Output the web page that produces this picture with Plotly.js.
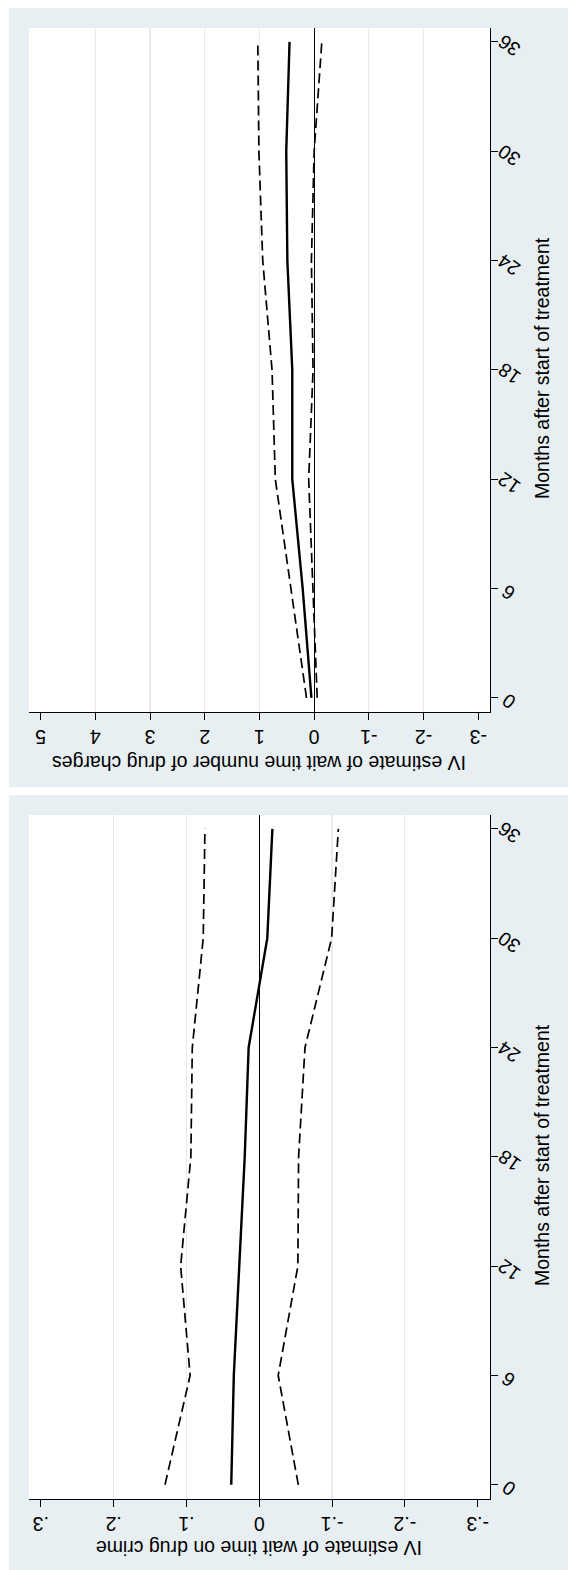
<!DOCTYPE html>
<html>
<head>
<meta charset="utf-8">
<script src="https://cdn.plot.ly/plotly-3.0.1.min.js"></script>
<style>
html,body{margin:0;padding:0;background:#fff;}
#chart{width:568px;height:1570px;}
</style>
</head>
<body>
<div id="chart"></div>
<script>
// Data (months after start of treatment)
const months = [0, 6, 12, 18, 24, 30, 36];
// Top panel: IV estimate of wait time on number of drug charges
const chargesEst   = [0.05, 0.21, 0.40, 0.40, 0.49, 0.51, 0.45];
const chargesUpper = [0.14, 0.42, 0.71, 0.77, 0.94, 1.01, 1.03];
const chargesLower = [-0.055, 0.02, 0.10, 0.02, 0.05, 0.00, -0.14];
// Bottom panel: IV estimate of wait time on drug crime
const crimeEst   = [0.0385, 0.035, 0.0275, 0.020, 0.0146, -0.011, -0.018];
const crimeUpper = [0.1295, 0.095, 0.108, 0.094, 0.092, 0.077, 0.0746];
const crimeLower = [-0.0536, -0.026, -0.053, -0.054, -0.0628, -0.0994, -0.1086];
// Tick labels
const monthTicks = [0, 6, 12, 18, 24, 30, 36];
const monthTickText = ["0", "6", "12", "18", "24", "30", "36"];
const chargesTickVals = [-3, -2, -1, 0, 1, 2, 3, 4, 5];
const chargesTickText = ["-3", "-2", "-1", "0", "1", "2", "3", "4", "5"];
const chargesGridVals = [-2, -1, 1, 2, 3, 4];
const crimeTickVals = [-0.3, -0.2, -0.1, 0, 0.1, 0.2, 0.3];
const crimeTickText = ["-.3", "-.2", "-.1", "0", ".1", ".2", ".3"];
const crimeGridVals = [-0.2, -0.1, 0.1, 0.2];
const valueTitles = ["IV estimate of wait time number of drug charges", "IV estimate of wait time on drug crime"];
const monthTitle = "Months after start of treatment";

const W = 568, H = 1570;
const FONT = "Liberation Sans, Arial, Helvetica, sans-serif";
const FS = 19.5;
const px = v => v / W;
const py = v => 1 - v / H;

const solid = {color: "#000", width: 2.4};
const dashed = {color: "#000", width: 1.7, dash: "10px,5px"};

const traces = [
  {x: chargesUpper, y: months, xaxis: "x", yaxis: "y", mode: "lines", line: dashed, showlegend: false, hoverinfo: "skip"},
  {x: chargesLower, y: months, xaxis: "x", yaxis: "y", mode: "lines", line: dashed, showlegend: false, hoverinfo: "skip"},
  {x: chargesEst, y: months, xaxis: "x", yaxis: "y", mode: "lines", line: solid, showlegend: false, hoverinfo: "skip"},
  {x: crimeUpper, y: months, xaxis: "x2", yaxis: "y2", mode: "lines", line: dashed, showlegend: false, hoverinfo: "skip"},
  {x: crimeLower, y: months, xaxis: "x2", yaxis: "y2", mode: "lines", line: dashed, showlegend: false, hoverinfo: "skip"},
  {x: crimeEst, y: months, xaxis: "x2", yaxis: "y2", mode: "lines", line: solid, showlegend: false, hoverinfo: "skip"}
];

const xDom = [px(29), px(490)];
const topDom = [py(712), py(28)];
const botDom = [py(1499), py(815)];

function valueAxis(anchor, dom, range, tv, tt, gv) {
  return {
    anchor: anchor, domain: dom, range: range, autorange: false,
    tickmode: "array", tickvals: tv, ticktext: tt, tickangle: 180,
    ticks: "outside", ticklen: 7, tickwidth: 1, tickcolor: "#000",
    ticklabelstandoff: 6,
    showline: true, linecolor: "#000", linewidth: 1, mirror: false,
    showgrid: false,
    minor: {tickmode: "array", tickvals: gv, showgrid: true, gridcolor: "#e4ecef", gridwidth: 1.2, ticks: ""},
    zeroline: true, zerolinecolor: "#000", zerolinewidth: 1,
    tickfont: {family: FONT, size: FS, color: "#000"},
    fixedrange: true
  };
}
function monthAxis(anchor, dom) {
  return {
    anchor: anchor, domain: dom, side: "right", range: [-0.78, 36.76], autorange: false,
    tickmode: "array", tickvals: monthTicks, ticktext: monthTickText,
    showticklabels: false,
    ticks: "outside", ticklen: 7, tickwidth: 1, tickcolor: "#000",
    showline: true, linecolor: "#000", linewidth: 1,
    showgrid: false, zeroline: false,
    fixedrange: true
  };
}

const annotations = [
  {text: valueTitles[0], xref: "paper", yref: "paper", x: (xDom[0] + xDom[1]) / 2, y: py(763), textangle: 180, showarrow: false, xanchor: "center", yanchor: "middle", font: {family: FONT, size: FS, color: "#000"}},
  {text: valueTitles[1], xref: "paper", yref: "paper", x: (xDom[0] + xDom[1]) / 2, y: py(1548), textangle: 180, showarrow: false, xanchor: "center", yanchor: "middle", font: {family: FONT, size: FS, color: "#000"}},
  {text: monthTitle, xref: "paper", yref: "paper", x: px(542), y: py(368), textangle: -90, showarrow: false, xanchor: "center", yanchor: "middle", font: {family: FONT, size: FS, color: "#000"}},
  {text: monthTitle, xref: "paper", yref: "paper", x: px(542), y: py(1155), textangle: -90, showarrow: false, xanchor: "center", yanchor: "middle", font: {family: FONT, size: FS, color: "#000"}}
];
// Rotated month tick labels, positioned through each panel's month axis
["y", "y2"].forEach(function (yref) {
  monthTicks.forEach(function (m, i) {
    annotations.push({
      text: monthTickText[i], xref: "paper", yref: yref, x: px(509), y: m, yshift: -4,
      textangle: -145, showarrow: false, xanchor: "center", yanchor: "middle",
      font: {family: FONT, size: FS, color: "#000"}
    });
  });
});

const layout = {
  width: W, height: H,
  margin: {l: 0, r: 0, t: 0, b: 0, pad: 0},
  paper_bgcolor: "#ffffff",
  plot_bgcolor: "rgba(0,0,0,0)",
  showlegend: false,
  font: {family: FONT, size: FS, color: "#000"},
  xaxis: valueAxis("y", xDom, [5.212, -3.214], chargesTickVals, chargesTickText, chargesGridVals),
  yaxis: monthAxis("x", topDom),
  xaxis2: valueAxis("y2", xDom, [0.3163, -0.3169], crimeTickVals, crimeTickText, crimeGridVals),
  yaxis2: monthAxis("x2", botDom),
  shapes: [
    {type: "rect", xref: "paper", yref: "paper", x0: px(9), x1: 1, y0: py(787), y1: py(8), fillcolor: "#e8eff2", line: {width: 0}, layer: "below"},
    {type: "rect", xref: "paper", yref: "paper", x0: px(9), x1: 1, y0: 0, y1: py(795), fillcolor: "#e8eff2", line: {width: 0}, layer: "below"},
    {type: "rect", xref: "paper", yref: "paper", x0: xDom[0], x1: xDom[1], y0: topDom[0], y1: topDom[1], fillcolor: "#ffffff", line: {width: 0}, layer: "below"},
    {type: "rect", xref: "paper", yref: "paper", x0: xDom[0], x1: xDom[1], y0: botDom[0], y1: botDom[1], fillcolor: "#ffffff", line: {width: 0}, layer: "below"}
  ],
  annotations: annotations
};

Plotly.newPlot("chart", traces, layout, {staticPlot: true, displayModeBar: false});
</script>
</body>
</html>
